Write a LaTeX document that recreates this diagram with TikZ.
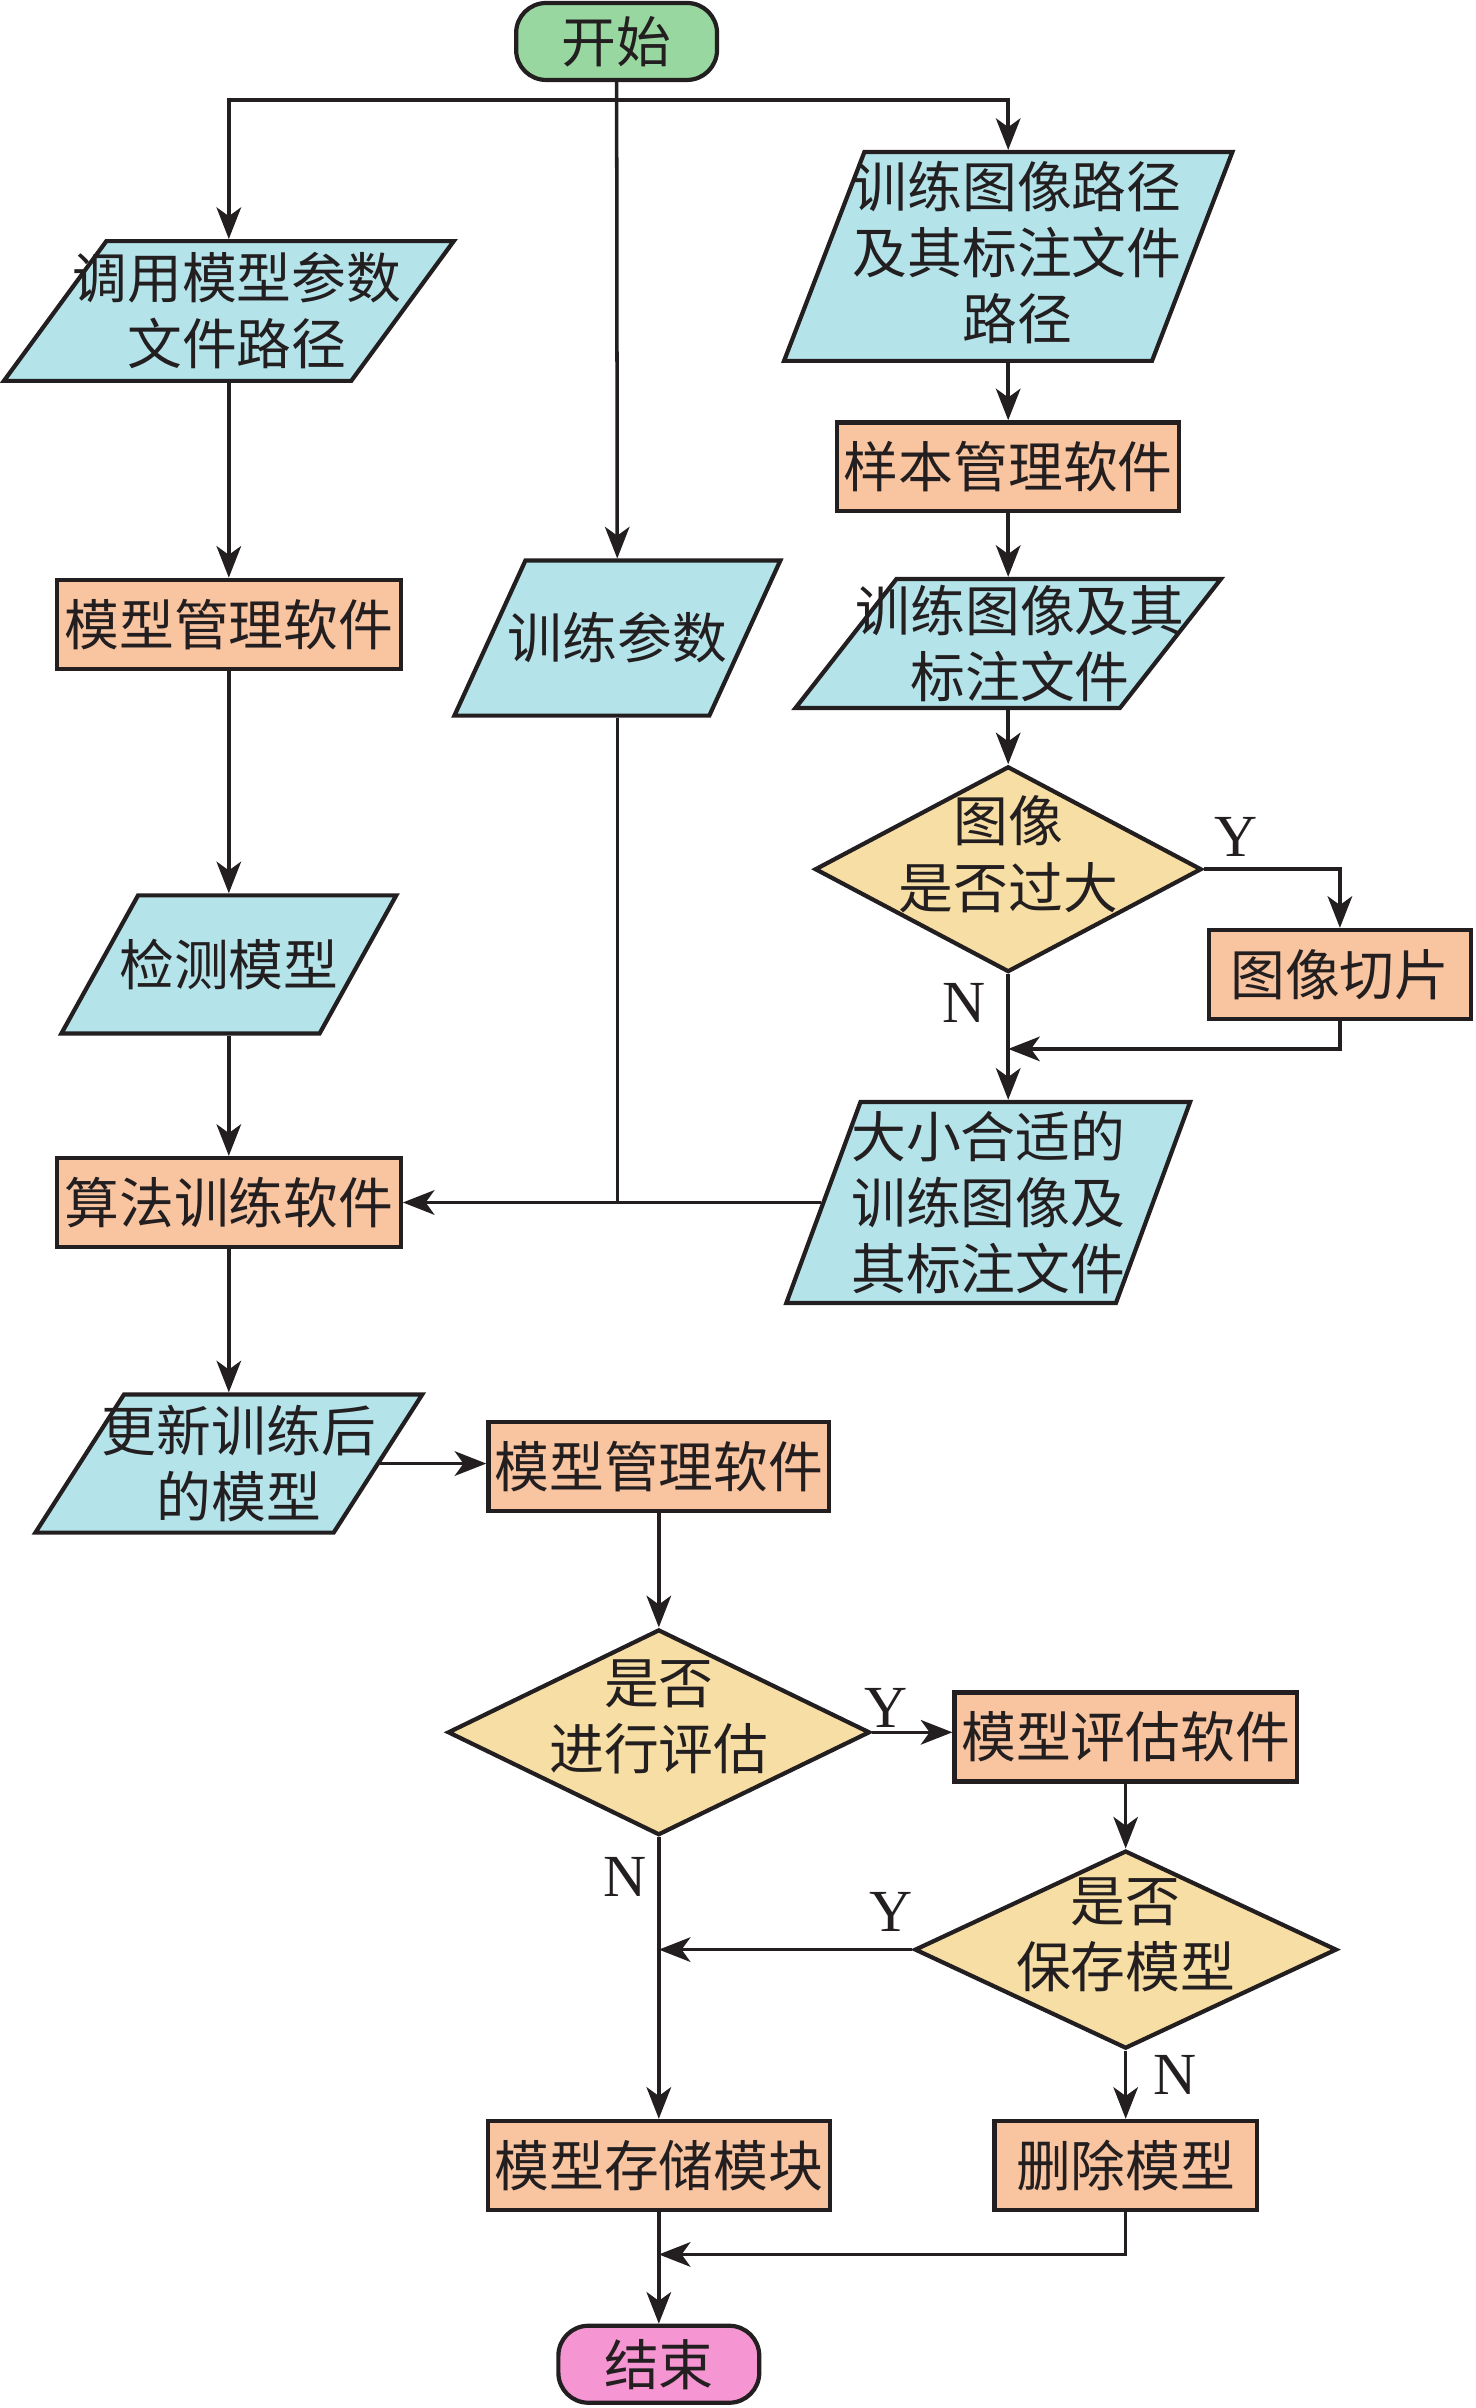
\documentclass[tikz,border=0pt]{standalone}
\usepackage{fontspec}
\setmainfont{Liberation Serif}
\newfontfamily\cjk{Noto Sans CJK SC}
\usepackage{tikz}
\usetikzlibrary{shapes.geometric, arrows.meta}
\usepackage{xcolor}
\definecolor{ink}{RGB}{35,31,32}
\definecolor{startgreen}{RGB}{152,216,160}
\definecolor{iocyan}{RGB}{180,228,234}
\definecolor{procorange}{RGB}{249,196,160}
\definecolor{decyellow}{RGB}{247,222,164}
\definecolor{endpink}{RGB}{245,150,210}

\begin{document}
\begin{tikzpicture}[x=0.01536cm, y=-0.01536cm, color=ink, line width=1pt,
    >={Stealth[length=9pt, width=7pt, inset=2.5pt]},
    cjktext/.style={font=\cjk\fontsize{15.6}{18.8}\selectfont, align=center, text=ink},
    term/.style={cjktext, draw, line width=1.2pt, rounded corners=0.3cm, minimum width=2.01cm, minimum height=0.77cm, inner sep=0pt},
    proc/.style={cjktext, draw, line width=1.2pt, fill=procorange, minimum height=0.89cm, inner sep=0pt},
    io/.style={trapezium, trapezium left angle=#1, trapezium right angle=180-#1, trapezium stretches=true, draw, line width=1.2pt, fill=iocyan, inner sep=1pt},
    decision/.style={diamond, draw, line width=1.2pt, fill=decyellow, inner sep=1pt},
    dtext/.style={cjktext, yshift=0.15cm},
    yn/.style={font=\fontsize{17}{20}\selectfont, text=ink}]
    \useasboundingbox (0,0) rectangle (961,1568);

    % Start and the three branches below it
    \node[term, fill=startgreen] (start) at (401.5,27) {开始};
    \node[io=67.3, minimum width=4.50cm, minimum height=1.398cm, label={[cjktext, xshift=0.08cm]center:调用模型参数\\文件路径}] (call) at (149,202.5) {};
    \node[io=68.9, minimum width=3.26cm, minimum height=1.551cm, label={[cjktext]center:训练参数}] (param) at (402,415.5) {};
    \node[io=74.4, minimum width=4.485cm, minimum height=2.089cm, label={[cjktext, xshift=0.09cm, yshift=0.04cm]center:训练图像路径\\及其标注文件\\路径}] (imgpath) at (656.5,167) {};

    % Right column: sample preparation
    \node[proc, minimum width=3.425cm] (sample) at (656.5,304) {样本管理软件};
    \node[io=65.7, minimum width=4.255cm, minimum height=1.29cm, label={[cjktext, xshift=0.12cm]center:训练图像及其\\标注文件}] (imgs) at (656.5,419) {};
    \node[decision, minimum width=3.87cm, minimum height=2.058cm, label={[dtext]center:图像\\是否过大}] (big) at (656.5,566) {};
    \node[proc, minimum width=2.627cm] (cut) at (872.5,634.5) {图像切片};
    \node[io=73.8, minimum width=4.04cm, minimum height=2.012cm, label={[cjktext]center:大小合适的\\训练图像及\\其标注文件}] (fitimgs) at (643.5,783) {};

    % Left column: model and training
    \node[proc, minimum width=3.44cm] (mgr1) at (149,406.5) {模型管理软件};
    \node[io=67.1, minimum width=3.35cm, minimum height=1.382cm, label={[cjktext]center:检测模型}] (detect) at (149,628) {};
    \node[proc, minimum width=3.44cm] (algo) at (149,783) {算法训练软件};
    \node[io=67.1, minimum width=3.87cm, minimum height=1.382cm, label={[cjktext, xshift=0.1cm]center:更新训练后\\的模型}] (newmodel) at (149,953) {};

    % Lower part: evaluation and storage
    \node[proc, minimum width=3.41cm] (mgr2) at (429,955) {模型管理软件};
    \node[decision, minimum width=4.224cm, minimum height=2.058cm, label={[dtext]center:是否\\进行评估}] (doeval) at (429,1128) {};
    \node[proc, minimum width=3.425cm] (eval) at (733,1131) {模型评估软件};
    \node[decision, minimum width=4.224cm, minimum height=1.981cm, label={[dtext]center:是否\\保存模型}] (save) at (733,1269.5) {};
    \node[proc, minimum width=3.425cm] (store) at (429,1410) {模型存储模块};
    \node[proc, minimum width=2.627cm] (del) at (733,1410) {删除模型};
    \node[term, fill=endpink] (stop) at (429,1539.5) {结束};

    % Junction points
    \coordinate (split) at (402,65);
    \coordinate (merge) at (656.5,683);
    \coordinate (join) at (429,1468);

    % Draw the connectors at the top
    \draw[->] (start) -- (param);
    \draw[->] (split) -| (call.north);
    \draw[->] (split) -| (imgpath.north);
    \draw[->] (imgpath) -- (sample);
    \draw[->] (sample) -- (imgs);
    \draw[->] (imgs) -- (big);
    \draw[->] (big.east) -| (cut.north);
    \draw[->] (big.south) -- (big.south |- fitimgs.north);
    \draw[->] (cut.south) |- (merge);
    \draw[->] (fitimgs.west) -- (algo.east);
    \draw (param.south) -- (param.south |- algo.east);
    \draw[->] (call) -- (mgr1);
    \draw[->] (mgr1) -- (detect);
    \draw[->] (detect) -- (algo);
    \draw[->] (algo) -- (newmodel);
    \draw[->] (newmodel.east) -- (newmodel.east -| mgr2.west);

    % Draw the connectors at the bottom
    \draw[->] (mgr2) -- (doeval);
    \draw[->] (doeval.east) -- (doeval.east -| eval.west);
    \draw[->] (eval) -- (save);
    \draw[->] (save.west) -- (save.west -| doeval.south);
    \draw[->] (doeval) -- (store);
    \draw[->] (save) -- (del);
    \draw[->] (del.south) |- (join);
    \draw[->] (store) -- (stop);

    % Y and N labels
    \node[yn] (y1) at (805,545) {Y};
    \node[yn] (n1) at (628,653) {N};
    \node[yn] (y2) at (577,1112) {Y};
    \node[yn] (n2) at (407,1222) {N};
    \node[yn] (y3) at (580,1245) {Y};
    \node[yn] (n3) at (765,1351) {N};
\end{tikzpicture}
\end{document}
